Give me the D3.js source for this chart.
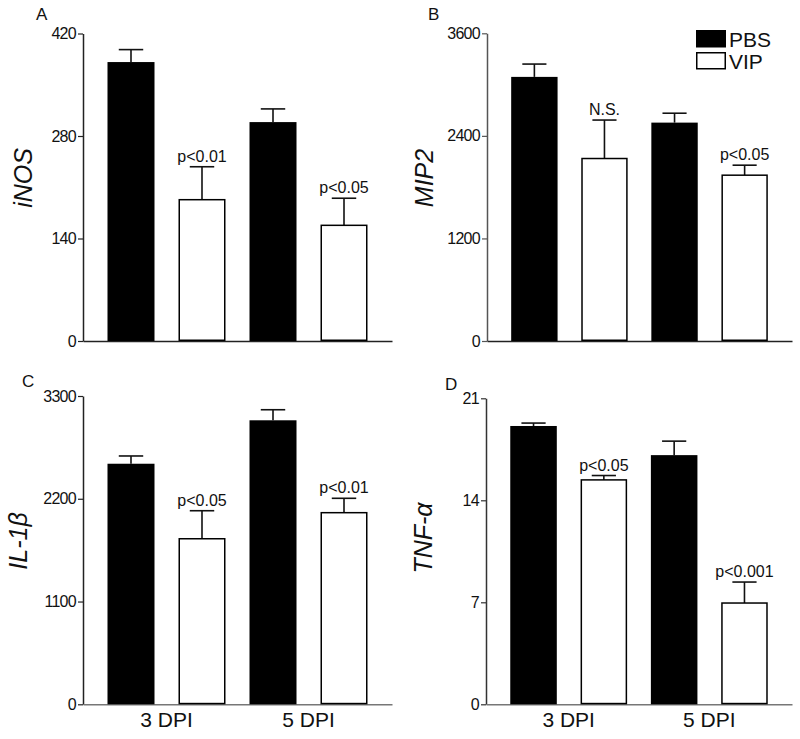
<!DOCTYPE html>
<html>
<head>
<meta charset="utf-8">
<script src="https://cdn.jsdelivr.net/npm/d3@7/dist/d3.min.js"></script>
<style>
  html, body { margin: 0; padding: 0; background: #fff; }
  svg { display: block; font-family: "Liberation Sans", Arial, sans-serif; }
</style>
</head>
<body>
<svg id="chart" width="800" height="739"></svg>
<script>
// ---------- data ----------
const groups = ["3 DPI", "5 DPI"];
const treatments = ["PBS", "VIP"];

const iNOS_PBS = [381, 299];
const iNOS_PBS_err = [17, 18];
const iNOS_VIP = [193, 158];
const iNOS_VIP_err = [45, 37];
const iNOS_ticks = [0, 140, 280, 420];
const iNOS_sig = ["p<0.01", "p<0.05"];

const MIP2_PBS = [3090, 2555];
const MIP2_PBS_err = [150, 110];
const MIP2_VIP = [2135, 1940];
const MIP2_VIP_err = [450, 117];
const MIP2_ticks = [0, 1200, 2400, 3600];
const MIP2_sig = ["N.S.", "p<0.05"];

const IL1b_PBS = [2575, 3040];
const IL1b_PBS_err = [83, 113];
const IL1b_VIP = [1772, 2051];
const IL1b_VIP_err = [300, 154];
const IL1b_ticks = [0, 1100, 2200, 3300];
const IL1b_sig = ["p<0.05", "p<0.01"];

const TNF_PBS = [19.1, 17.1];
const TNF_PBS_err = [0.2, 0.96];
const TNF_VIP = [15.4, 6.95];
const TNF_VIP_err = [0.3, 1.44];
const TNF_ticks = [0, 7, 14, 21];
const TNF_sig = ["p<0.05", "p<0.001"];

// ---------- layout ----------
const panels = [
  { letter: "A", label: "iNOS", pbs: iNOS_PBS, pbsErr: iNOS_PBS_err, vip: iNOS_VIP, vipErr: iNOS_VIP_err, ticks: iNOS_ticks, sig: iNOS_sig,
    x: [83, 392], y: [341, 33.5], letterPos: [36, 20], labelPos: [32, 178], yAxisColor: "#222", xAxisColor: "#222", showX: false },
  { letter: "B", label: "MIP2", pbs: MIP2_PBS, pbsErr: MIP2_PBS_err, vip: MIP2_VIP, vipErr: MIP2_VIP_err, ticks: MIP2_ticks, sig: MIP2_sig,
    x: [487, 792], y: [341, 33.3], letterPos: [428, 20], labelPos: [433, 178], yAxisColor: "#555", xAxisColor: "#222", showX: false },
  { letter: "C", label: "IL-1\u03B2", pbs: IL1b_PBS, pbsErr: IL1b_PBS_err, vip: IL1b_VIP, vipErr: IL1b_VIP_err, ticks: IL1b_ticks, sig: IL1b_sig,
    x: [83, 392], y: [704.3, 396], letterPos: [22, 387], labelPos: [27, 541], yAxisColor: "#222", xAxisColor: "#777", showX: true },
  { letter: "D", label: "TNF-\u03B1", pbs: TNF_PBS, pbsErr: TNF_PBS_err, vip: TNF_VIP, vipErr: TNF_VIP_err, ticks: TNF_ticks, sig: TNF_sig,
    x: [486, 792], y: [704.3, 398.3], letterPos: [445, 390], labelPos: [432, 538], yAxisColor: "#333", xAxisColor: "#777", showX: true }
];

const svg = d3.select("#chart");

panels.forEach(p => {
  const g = svg.append("g");
  const maxV = p.ticks[p.ticks.length - 1];
  const y = d3.scaleLinear().domain([0, maxV]).range(p.y);
  const x0 = d3.scaleBand().domain(groups).range(p.x).paddingInner(0).paddingOuter(0.088);
  const x1 = d3.scaleBand().domain(treatments).range([0, x0.bandwidth()]).paddingInner(0.338).paddingOuter(0.169);

  // y axis
  const yAxis = d3.axisLeft(y).tickValues(p.ticks).tickFormat(d3.format("d"))
    .tickSize(5).tickPadding(2).tickSizeOuter(0);
  const ya = g.append("g").attr("transform", `translate(${p.x[0]},0)`).call(yAxis);
  ya.select(".domain").attr("stroke", p.yAxisColor).attr("stroke-width", 1.5);
  ya.selectAll(".tick line").attr("stroke", p.yAxisColor).attr("stroke-width", 1.2);
  ya.selectAll(".tick text").attr("font-size", 16).attr("fill", "#111")
    .attr("font-family", "'Liberation Sans', Arial, sans-serif").style("letter-spacing", "-0.7px");

  // x axis line
  const xAxis = d3.axisBottom(x0).tickSize(0).tickPadding(8).tickSizeOuter(0);
  const xa = g.append("g").attr("transform", `translate(0,${p.y[0]})`).call(xAxis);
  xa.select(".domain").attr("stroke", p.xAxisColor).attr("stroke-width", 1.5);
  xa.selectAll(".tick text").attr("font-size", 21).attr("fill", "#111")
    .attr("font-family", "'Liberation Sans', Arial, sans-serif")
    .attr("dy", "0.71em")
    .style("display", p.showX ? null : "none");

  // data rows
  const rows = [];
  groups.forEach((grp, i) => {
    rows.push({ grp, t: "PBS", v: p.pbs[i], e: p.pbsErr[i], sig: null });
    rows.push({ grp, t: "VIP", v: p.vip[i], e: p.vipErr[i], sig: p.sig[i] });
  });

  const bw = x1.bandwidth();
  const bars = g.append("g");
  rows.forEach(r => {
    const cx = x0(r.grp) + x1(r.t) + bw / 2;
    const top = y(r.v + r.e);
    bars.append("line").attr("x1", cx).attr("x2", cx).attr("y1", y(r.v)).attr("y2", top)
      .attr("stroke", "#111").attr("stroke-width", 1.6);
    bars.append("line").attr("x1", cx - bw * 0.26).attr("x2", cx + bw * 0.26).attr("y1", top).attr("y2", top)
      .attr("stroke", "#111").attr("stroke-width", 1.6);
    if (r.sig) {
      bars.append("text").attr("x", cx).attr("y", top - 5).attr("text-anchor", "middle")
        .attr("font-size", 16).attr("fill", "#111").text(r.sig);
    }
  });
  bars.selectAll("rect").data(rows).join("rect")
    .attr("x", d => x0(d.grp) + x1(d.t) + (d.t === "VIP" ? 0.75 : 0))
    .attr("width", d => bw - (d.t === "VIP" ? 1.5 : 0))
    .attr("y", d => y(d.v))
    .attr("height", d => y(0) - y(d.v) - (d.t === "VIP" ? 0.75 : 0))
    .attr("fill", d => d.t === "PBS" ? "#000" : "#fff")
    .attr("stroke", "#000")
    .attr("stroke-width", d => d.t === "VIP" ? 1.5 : 0);

  // panel letter
  g.append("text").attr("x", p.letterPos[0]).attr("y", p.letterPos[1])
    .attr("font-size", 17).attr("fill", "#111").text(p.letter);

  // y label
  g.append("text")
    .attr("transform", `translate(${p.labelPos[0]},${p.labelPos[1]}) rotate(-90)`)
    .attr("text-anchor", "middle").attr("font-size", 25).attr("font-style", "italic")
    .attr("fill", "#111").text(p.label);
});

// legend
const legend = svg.append("g");
treatments.forEach((t, i) => {
  legend.append("rect").attr("x", 696.75).attr("y", 30 + i * 22 + 0.75).attr("width", 28.5).attr("height", 16)
    .attr("fill", t === "PBS" ? "#000" : "#fff").attr("stroke", "#000").attr("stroke-width", 1.5);
  legend.append("text").attr("x", 729).attr("y", 46.5 + i * 22.5).attr("font-size", 21)
    .attr("fill", "#111").text(t);
});
</script>
</body>
</html>
